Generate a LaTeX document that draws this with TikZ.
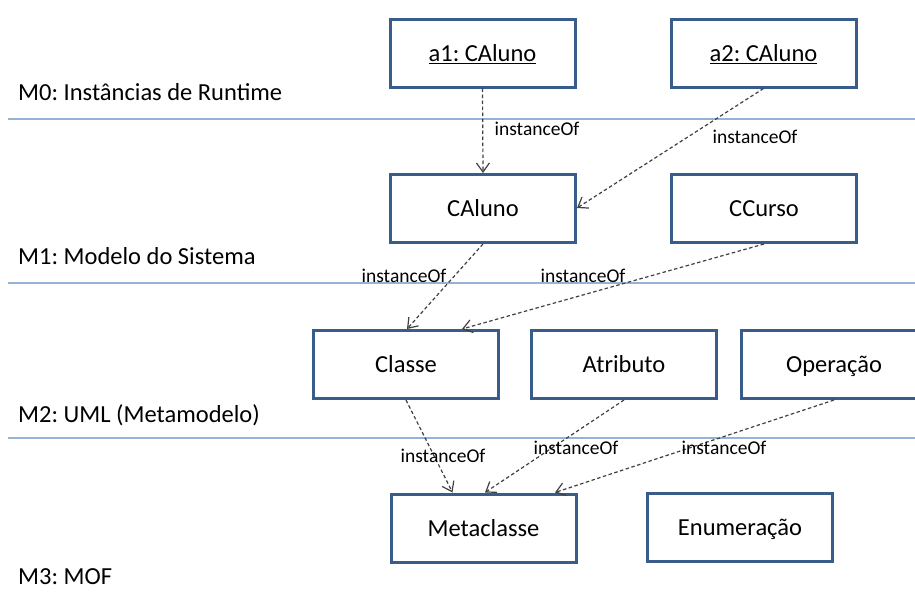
\documentclass[tikz,border=0pt]{standalone}
\usepackage{fontspec}
\setmainfont{Carlito}
\usetikzlibrary{arrows.meta}

\definecolor{boxblue}{HTML}{385D8A}
\definecolor{levelline}{HTML}{95B3D7}
\definecolor{linkgray}{HTML}{404040}

\tikzset{
  classbox/.style={draw=boxblue, line width=3pt, fill=white, rectangle,
    minimum width=185pt, minimum height=68pt, inner sep=0pt,
    text height=16.5pt, text depth=0pt,
    font=\fontsize{24.5}{27}\selectfont},
  levelsep/.style={draw=levelline, line width=1.3pt},
  levellabel/.style={anchor=base west, inner sep=0pt,
    font=\fontsize{24.5}{27}\selectfont},
  instof/.style={draw=linkgray, line width=1.2pt, dash pattern=on 3.5pt off 2.5pt,
    -{Straight Barb[length=9pt,width=13pt,line width=1.2pt]}},
  linklabel/.style={inner sep=0pt, font=\fontsize{19.5}{21}\selectfont}
}

\begin{document}
\frenchspacing
\begin{tikzpicture}[x=1pt,y=-1pt]
\useasboundingbox (0,0) rectangle (915,597);
\clip (0,0) rectangle (915,597);

% metalevel separators
\coordinate (s0w) at (8,119);   \coordinate (s0e) at (915,119);
\coordinate (s1w) at (8,283);   \coordinate (s1e) at (915,283);
\coordinate (s2w) at (8,438);   \coordinate (s2e) at (915,438);
\draw[levelsep] (s0w) -- (s0e);
\draw[levelsep] (s1w) -- (s1e);
\draw[levelsep] (s2w) -- (s2e);

% metalevel names
\node[levellabel] (m0) at (18,100) {M0: Instâncias de Runtime};
\node[levellabel] (m1) at (18,264) {M1: Modelo do Sistema};
\node[levellabel] (m2) at (18,422) {M2: UML (Metamodelo)};
\node[levellabel] (m3) at (18,584) {M3: MOF};

% M0 objects
\node[classbox] (a1) at (482.5,53) {\underline{a1: CAluno}};
\node[classbox] (a2) at (763.5,53) {\underline{a2: CAluno}};

% M1 classes
\node[classbox] (caluno) at (483,208.5) {CAluno};
\node[classbox] (ccurso) at (764,208.5) {CCurso};

% M2 metaclasses
\node[classbox] (classe) at (406,364.5) {Classe};
\node[classbox] (atributo) at (624,364.5) {Atributo};
\node[classbox] (operacao) at (834,364.5) {Operação};

% M3 elements
\node[classbox] (metaclasse) at (483.5,528) {Metaclasse};
\node[classbox] (enumeracao) at (740,527.5) {Enumeração};

% instanceOf links
\draw[instof] (a1.south) -- (caluno.north);
\draw[instof] (a2.south) -- ([yshift=0.5pt]caluno.east);
\draw[instof] (caluno.south) -- ([xshift=1pt]classe.north);
\draw[instof] (ccurso.south) -- ([xshift=56pt]classe.north);
\draw[instof] (classe.south) -- ([xshift=-31pt]metaclasse.north);
\draw[instof] (atributo.south) -- ([xshift=1.5pt]metaclasse.north);
\draw[instof] (operacao.south) -- ([xshift=71.5pt]metaclasse.north);

\node[linklabel] (l1) at (537,129) {instanceOf};
\node[linklabel] (l2) at (755,137) {instanceOf};
\node[linklabel] (l3) at (404,276) {instanceOf};
\node[linklabel] (l4) at (583,276) {instanceOf};
\node[linklabel] (l5) at (443,456) {instanceOf};
\node[linklabel] (l6) at (576,448) {instanceOf};
\node[linklabel] (l7) at (724,448) {instanceOf};
\end{tikzpicture}
\end{document}
